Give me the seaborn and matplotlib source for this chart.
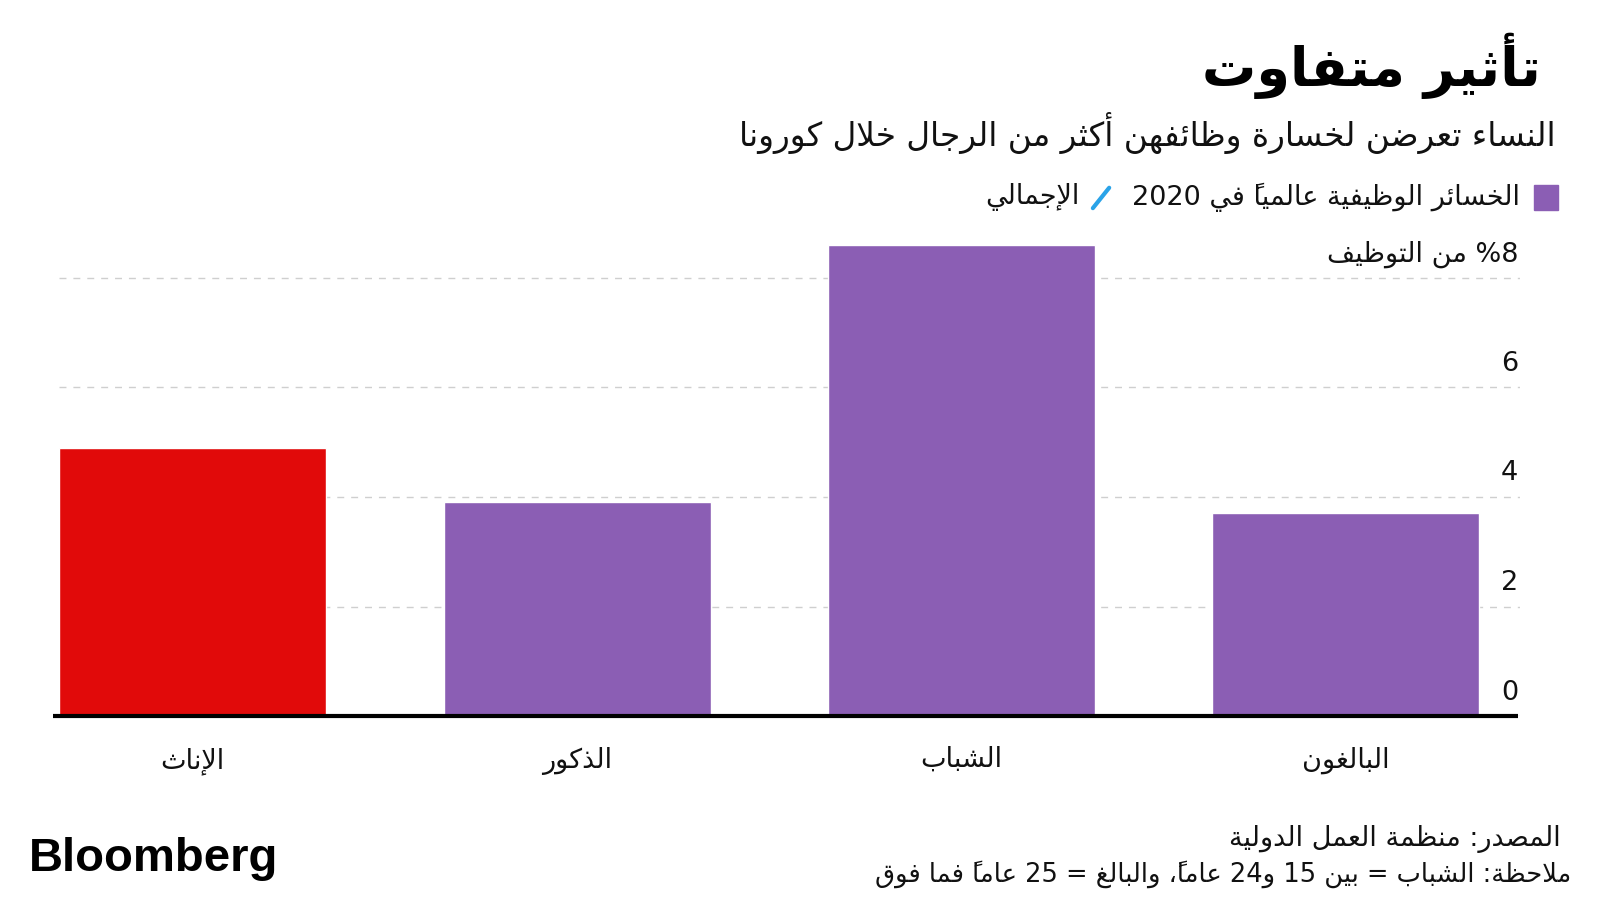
import matplotlib
matplotlib.use('Agg')
import matplotlib.pyplot as plt
from matplotlib.patches import Rectangle
from matplotlib.lines import Line2D
import pandas as pd
import seaborn as sns

# data (logical Arabic text, shaped for display below)
categories = ['الإناث', 'الذكور', 'الشباب', 'البالغون']
job_losses = [4.9, 3.9, 8.6, 3.7]
bar_colors = ['#E10A0A', '#8B5EB4', '#8B5EB4', '#8B5EB4']
y_ticks = [0, 2, 4, 6, 8]
y_tick_labels = ['0', '2', '4', '6', '8% من التوظيف']

title = 'تأثير متفاوت'
subtitle = 'النساء تعرضن لخسارة وظائفهن أكثر من الرجال خلال كورونا'
legend_bar = 'الخسائر الوظيفية عالمياً في 2020'
legend_line = 'الإجمالي'
source = 'المصدر: منظمة العمل الدولية'
note = 'ملاحظة: الشباب = بين 15 و24 عاماً، والبالغ = 25 عاماً فما فوق'

purple = '#8B5EB4'
blue = '#2AA3E8'

# matplotlib does no Arabic shaping or bidi, so do a small version of it here
_base = {
    'ء': (0xFE80, 1), 'آ': (0xFE81, 2), 'أ': (0xFE83, 2), 'ؤ': (0xFE85, 2),
    'إ': (0xFE87, 2), 'ئ': (0xFE89, 4), 'ا': (0xFE8D, 2), 'ب': (0xFE8F, 4),
    'ة': (0xFE93, 2), 'ت': (0xFE95, 4), 'ث': (0xFE99, 4), 'ج': (0xFE9D, 4),
    'ح': (0xFEA1, 4), 'خ': (0xFEA5, 4), 'د': (0xFEA9, 2), 'ذ': (0xFEAB, 2),
    'ر': (0xFEAD, 2), 'ز': (0xFEAF, 2), 'س': (0xFEB1, 4), 'ش': (0xFEB5, 4),
    'ص': (0xFEB9, 4), 'ض': (0xFEBD, 4), 'ط': (0xFEC1, 4), 'ظ': (0xFEC5, 4),
    'ع': (0xFEC9, 4), 'غ': (0xFECD, 4), 'ف': (0xFED1, 4), 'ق': (0xFED5, 4),
    'ك': (0xFED9, 4), 'ل': (0xFEDD, 4), 'م': (0xFEE1, 4), 'ن': (0xFEE5, 4),
    'ه': (0xFEE9, 4), 'و': (0xFEED, 2), 'ى': (0xFEEF, 2), 'ي': (0xFEF1, 4),
}
_lamalef = {'آ': 0xFEF5, 'أ': 0xFEF7, 'إ': 0xFEF9, 'ا': 0xFEFB}
_marks = set('\u064B\u064C\u064D\u064E\u064F\u0650\u0651\u0652')


def _joins_next(c):
    if c.startswith('LA'):
        return False
    return c in _base and _base[c][1] == 4


def _joins_prev(c):
    if c.startswith('LA'):
        return True
    return c in _base and _base[c][1] >= 2


def ar(text):
    clusters = []
    for ch in text:
        if ch in _marks and clusters:
            clusters[-1][1] += ch
        else:
            clusters.append([ch, ''])
    merged = []
    i = 0
    while i < len(clusters):
        ch, mk = clusters[i]
        if (ch == 'ل' and i + 1 < len(clusters)
                and clusters[i + 1][0] in _lamalef):
            merged.append(['LA' + clusters[i + 1][0], clusters[i + 1][1]])
            i += 2
        else:
            merged.append([ch, mk])
            i += 1
    shaped = []
    for k, (ch, mk) in enumerate(merged):
        prev = merged[k - 1][0] if k > 0 else None
        nxt = merged[k + 1][0] if k + 1 < len(merged) else None
        jp = prev is not None and _joins_next(prev) and _joins_prev(ch)
        jn = nxt is not None and _joins_next(ch) and _joins_prev(nxt)
        if ch.startswith('LA'):
            g = chr(_lamalef[ch[2]] + (1 if jp else 0))
        elif ch in _base:
            b, n = _base[ch]
            if n == 1:
                g = chr(b)
            elif n == 2:
                g = chr(b + (1 if jp else 0))
            elif jp and jn:
                g = chr(b + 3)
            elif jp:
                g = chr(b + 1)
            elif jn:
                g = chr(b + 2)
            else:
                g = chr(b)
        else:
            g = ch
        # zero-width marks draw to the right of the pen, so put them first
        shaped.append(mk + g)
    tokens = []
    for c in shaped:
        if c.isdigit() and tokens and tokens[-1].isdigit():
            tokens[-1] += c
        else:
            tokens.append(c)
    return ''.join(reversed(tokens))


sns.set_style('white')
plt.rcParams['font.family'] = ['DejaVu Sans']

# layout measured on a 1568x882 view of the reference
W, H = 1568.0, 882.0


def fx(x):
    return x / W


def fy(y):
    return 1 - y / H


fig = plt.figure(figsize=(16, 9), dpi=100)
unit = 53.75
ax = fig.add_axes([fx(58), (H - 702) / H, 1432 / W, 9 * unit / H])

df = pd.DataFrame({'cat': [ar(c) for c in categories], 'val': job_losses})
sns.barplot(data=df, x='cat', y='val', hue='cat', palette=bar_colors,
            legend=False, saturation=1, width=0.695, ax=ax, zorder=2)

ax.set_xlim(-0.3475, 3.454)
ax.set_ylim(0, 9)
ax.set_yticks(y_ticks)
ax.set_yticklabels([])
ax.yaxis.grid(True, ls=(0, (5, 5)), color='#cfcfcf', lw=1)
ax.set_axisbelow(True)
ax.tick_params(axis='y', length=0)
ax.tick_params(axis='x', length=0, pad=22, labelsize=19.5,
               labelcolor='#111111')
ax.set_xlabel('')
ax.set_ylabel('')
for s in ax.spines.values():
    s.set_visible(False)
ax.plot([-0.363, 3.449], [0, 0], color='black', lw=3, zorder=3,
        clip_on=False, solid_capstyle='butt')

for v, lab in zip(y_ticks, y_tick_labels):
    ax.annotate(ar(lab), xy=(0.9985, v), xycoords=ax.get_yaxis_transform(),
                xytext=(0, 17), textcoords='offset points',
                ha='right', va='center', fontsize=19.5, color='#111111')

fig.text(fx(1510), fy(65), ar(title), ha='right', va='center',
         fontsize=39, fontweight='bold', color='black')
fig.text(fx(1525), fy(130), ar(subtitle), ha='right', va='center',
         fontsize=23.5, color='#111111')

fig.patches.append(Rectangle((fx(1503), fy(206)), 24 / W, 25 / H,
                             transform=fig.transFigure, color=purple))
fig.text(fx(1490), fy(193), ar(legend_bar), ha='right', va='center',
         fontsize=19.5, color='#111111')
fig.lines.append(Line2D([fx(1071), fx(1087)], [fy(204), fy(184)],
                        transform=fig.transFigure, color=blue, lw=3))
fig.text(fx(1058), fy(193), ar(legend_line), ha='right', va='center',
         fontsize=19.5, color='#111111')

fig.text(fx(28), fy(842), 'Bloomberg', ha='left', va='center',
         fontsize=34, fontweight='bold', family='Liberation Sans',
         color='black')
fig.text(fx(1530), fy(822), ar(source), ha='right', va='center',
         fontsize=19.5, color='#111111')
fig.text(fx(1540), fy(857), ar(note), ha='right', va='center',
         fontsize=18.5, color='#111111')

fig.savefig('out.png', dpi=100, facecolor='white')
